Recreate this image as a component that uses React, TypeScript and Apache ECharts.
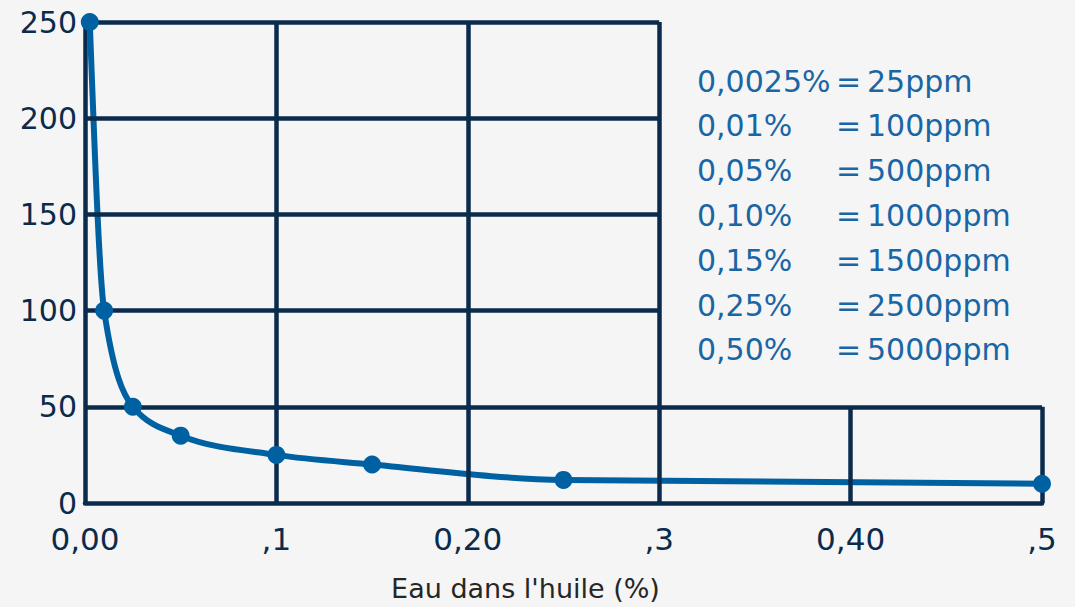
import React, { useEffect, useRef } from "react";
import * as echarts from "echarts";

// Water content in oil (%) vs value
const waterPct = [0.0025, 0.01, 0.025, 0.05, 0.1, 0.15, 0.25, 0.5];
const values = [250, 100, 50, 35, 25, 20, 12, 10];

const xTickLabels = ["0,00", ",1", "0,20", ",3", "0,40", ",5"];

// Grid segments in data units: [x1, y1, x2, y2]
const gridSegments: number[][] = [
  [0, 250, 0.3, 250],
  [0, 200, 0.3, 200],
  [0, 150, 0.3, 150],
  [0, 100, 0.3, 100],
  [0, 50, 0.5, 50],
  [0.1, 0, 0.1, 250],
  [0.2, 0, 0.2, 250],
  [0.3, 0, 0.3, 250],
  [0.4, 0, 0.4, 50],
  [0.5, 0, 0.5, 50],
];

const legendPct = ["0,0025%", "0,01%", "0,05%", "0,10%", "0,15%", "0,25%", "0,50%"];
const legendPpm = ["25ppm", "100ppm", "500ppm", "1000ppm", "1500ppm", "2500ppm", "5000ppm"];

const NAVY = "#0b2b4c";
const BLUE = "#0061a2";
const LEGEND_BLUE = "#1a66a5";
const FONT = "DejaVu Sans";

// Monotone cubic (as d3.curveMonotoneX) through pixel points -> SVG path data
function monotonePath(pts: number[][]): string {
  const n = pts.length;
  if (n < 2) return "";
  const h: number[] = [];
  const s: number[] = [];
  for (let i = 0; i < n - 1; i++) {
    h.push(pts[i + 1][0] - pts[i][0]);
    s.push((pts[i + 1][1] - pts[i][1]) / h[i]);
  }
  const m: number[] = new Array(n).fill(0);
  for (let i = 1; i < n - 1; i++) {
    const s0 = s[i - 1], s1 = s[i], h0 = h[i - 1], h1 = h[i];
    const p = (s0 * h1 + s1 * h0) / (h0 + h1);
    m[i] = (Math.sign(s0) + Math.sign(s1)) * Math.min(Math.abs(s0), Math.abs(s1), 0.5 * Math.abs(p)) || 0;
  }
  m[0] = (3 * s[0] - m[1]) / 2;
  m[n - 1] = (3 * s[n - 2] - m[n - 2]) / 2;
  let d = `M${pts[0][0]},${pts[0][1]}`;
  for (let i = 0; i < n - 1; i++) {
    const dx = h[i] / 3;
    d += ` C${pts[i][0] + dx},${pts[i][1] + m[i] * dx} ${pts[i + 1][0] - dx},${pts[i + 1][1] - m[i + 1] * dx} ${pts[i + 1][0]},${pts[i + 1][1]}`;
  }
  return d;
}

export default function App() {
  const ref = useRef<HTMLDivElement>(null);
  useEffect(() => {
    if (!ref.current) return;
    const chart = echarts.init(ref.current, undefined, { renderer: "svg" });
    const legendTexts: any[] = [];
    legendPct.forEach((p, i) => {
      const y = 81 + i * 44.8;
      legendTexts.push({
        type: "text", left: 697, top: y - 15,
        style: { text: p, fill: LEGEND_BLUE, font: `30px "${FONT}"` },
      });
      legendTexts.push({
        type: "text", left: 836, top: y - 15,
        style: { text: "=", fill: LEGEND_BLUE, font: `30px "${FONT}"` },
      });
      legendTexts.push({
        type: "text", left: 867, top: y - 15,
        style: { text: legendPpm[i], fill: LEGEND_BLUE, font: `30px "${FONT}"` },
      });
    });
    chart.setOption({
      animation: false,
      backgroundColor: "#f5f5f5",
      grid: { left: 85, right: 33, top: 22, bottom: 104, outerBoundsMode: "none", containLabel: false },
      xAxis: {
        type: "value",
        min: 0,
        max: 0.5,
        interval: 0.1,
        name: "Eau dans l'huile (%)",
        nameLocation: "middle",
        nameGap: 72,
        nameTextStyle: {
          fontFamily: FONT,
          fontSize: 27,
          color: "#262626",
          verticalAlign: "top",
          padding: [0, 76, 0, 0],
        },
        axisLine: { show: true, lineStyle: { color: NAVY, width: 4.5 } },
        axisTick: { show: false },
        splitLine: { show: false },
        axisLabel: {
          margin: 25,
          fontFamily: FONT,
          fontSize: 31,
          lineHeight: 22,
          color: NAVY,
          formatter: (v: number) => xTickLabels[Math.round(v * 10)] ?? "",
        },
      },
      yAxis: {
        type: "value",
        min: 0,
        max: 250,
        interval: 50,
        axisLine: { show: true, lineStyle: { color: NAVY, width: 4.5 } },
        axisTick: { show: false },
        splitLine: { show: false },
        axisLabel: {
          margin: 8,
          fontFamily: FONT,
          fontSize: 30,
          color: NAVY,
        },
      },
      series: [
        {
          type: "line",
          data: [],
          z: 1,
          markLine: {
            silent: true,
            symbol: ["none", "none"],
            label: { show: false },
            lineStyle: { type: "solid", color: NAVY, width: 4.5 },
            data: gridSegments.map((s) => [
              { coord: [s[0], s[1]] },
              { coord: [s[2], s[3]] },
            ]),
          },
        },
        {
          type: "custom",
          z: 4,
          silent: true,
          data: [[waterPct[0], values[0]]],
          renderItem: (_params: any, api: any) => {
            const pts = waterPct.map((x, i) => api.coord([x, values[i]]));
            return {
              type: "path",
              shape: { pathData: monotonePath(pts) },
              style: { fill: "none", stroke: BLUE, lineWidth: 6, lineCap: "round", lineJoin: "round" },
            };
          },
        },
        {
          type: "scatter",
          z: 5,
          data: waterPct.map((x, i) => [x, values[i]]),
          symbol: "circle",
          symbolSize: 18,
          itemStyle: { color: BLUE, opacity: 1 },
        },
      ],
      graphic: legendTexts,
    });
    return () => chart.dispose();
  }, []);
  return (
    <div
      ref={ref}
      style={{ position: "fixed", left: 0, top: 0, width: 1075, height: 607, background: "#f5f5f5" }}
    />
  );
}
